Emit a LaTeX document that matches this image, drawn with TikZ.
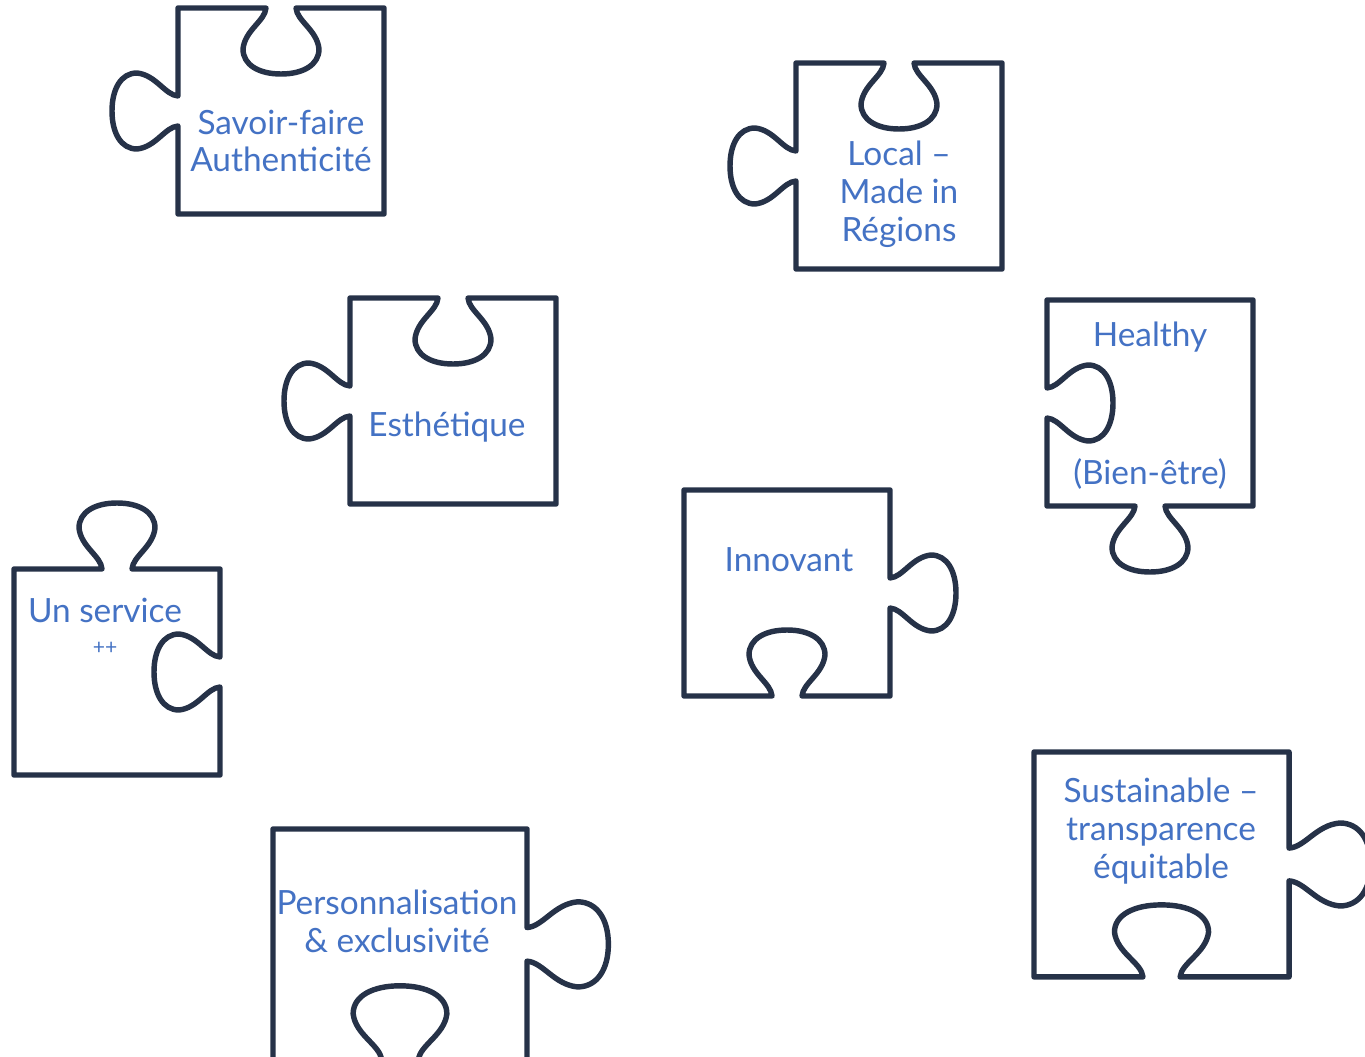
\documentclass[tikz,border=0pt]{standalone}
\usepackage{fontspec}
\setmainfont{Lato}
\usepackage{tikz}
\definecolor{ink}{HTML}{263248}
\definecolor{wordblue}{HTML}{4472C4}

% one knob on an edge: centre x, centre y, edge direction x, y, sign (1 tab, (-1) blank)
\newcommand{\knob}[5]{%
  -- ({#1-15*#3},{#2-15*#4})
  .. controls ({#1-16*#3+#5*13*#4},{#2-16*#4-#5*13*#3})
  and ({#1-36*#3+#5*22*#4},{#2-36*#4-#5*22*#3})
  .. ({#1-38*#3+#5*41*#4},{#2-38*#4-#5*41*#3})
  .. controls ({#1-38*#3+#5*57*#4},{#2-38*#4-#5*57*#3})
  and ({#1-22*#3+#5*66*#4},{#2-22*#4-#5*66*#3})
  .. ({#1+#5*66*#4},{#2-#5*66*#3})
  .. controls ({#1+22*#3+#5*66*#4},{#2+22*#4-#5*66*#3})
  and ({#1+38*#3+#5*57*#4},{#2+38*#4-#5*57*#3})
  .. ({#1+38*#3+#5*41*#4},{#2+38*#4-#5*41*#3})
  .. controls ({#1+36*#3+#5*22*#4},{#2+36*#4-#5*22*#3})
  and ({#1+16*#3+#5*13*#4},{#2+16*#4-#5*13*#3})
  .. ({#1+15*#3},{#2+15*#4})}

\begin{document}
\begin{tikzpicture}[
  x=0.02cm, y=-0.02cm,
  piece/.style={draw=ink,line width=3.1pt,line join=round,fill=white},
  txt/.style={text=wordblue,align=center,font=\fontsize{19}{21.5}\selectfont,inner sep=0pt},
  small/.style={text=wordblue,font=\fontsize{12}{14}\selectfont,inner sep=0pt}
]
  \useasboundingbox (0,0) rectangle (1365,1057);

  % top row
  \begin{scope}[shift={(178,8)}]
    \draw[piece] (0,0) \knob{103}{0}{1}{0}{(-1)} -- (206,0) -- (206,206) -- (0,206)
      \knob{0}{103}{0}{(-1)}{1} -- cycle;
  \end{scope}
  \node[txt] (savoir) at (281,141) {Savoir-faire\\Authenticité};

  \begin{scope}[shift={(796,63)}]
    \draw[piece] (0,0) \knob{103}{0}{1}{0}{(-1)} -- (206,0) -- (206,206) -- (0,206)
      \knob{0}{103}{0}{(-1)}{1} -- cycle;
  \end{scope}
  \node[txt] (local) at (899,194) {Local --\\Made in\\Régions};

  % middle
  \begin{scope}[shift={(350,298)}]
    \draw[piece] (0,0) \knob{103}{0}{1}{0}{(-1)} -- (206,0) -- (206,206) -- (0,206)
      \knob{0}{103}{0}{(-1)}{1} -- cycle;
  \end{scope}
  \node[txt] (esth) at (447,427) {Esthétique};

  \begin{scope}[shift={(1047,300)}]
    \draw[piece] (0,0) -- (206,0) -- (206,206) \knob{103}{206}{(-1)}{0}{1} -- (0,206)
      \knob{0}{103}{0}{(-1)}{(-1)} -- cycle;
  \end{scope}
  \node[txt] (healthy) at (1150,337) {Healthy};
  \node[txt] (bien) at (1150,474) {(Bien-être)};

  \begin{scope}[shift={(14,569)}]
    \draw[piece] (0,0) \knob{103}{0}{1}{0}{1} -- (206,0) \knob{206}{103}{0}{1}{(-1)}
      -- (206,206) -- (0,206) -- cycle;
  \end{scope}
  \node[txt] (service) at (105,610) {Un service};
  \node[small] (plus) at (105,648) {++};

  \begin{scope}[shift={(684,490)}]
    \draw[piece] (0,0) -- (206,0) \knob{206}{103}{0}{1}{1} -- (206,206)
      \knob{103}{206}{(-1)}{0}{(-1)} -- (0,206) -- cycle;
  \end{scope}
  \node[txt] (innov) at (789,560) {Innovant};

  % bottom row, larger pieces
  \begin{scope}[shift={(273,829)},xscale=1.233,yscale=1.12]
    \draw[piece] (0,0) -- (206,0) \knob{206}{103}{0}{1}{1} -- (206,206)
      \knob{103}{206}{(-1)}{0}{(-1)} -- (0,206) -- cycle;
  \end{scope}
  \node[txt] (perso) at (397,921) {Personnalisation\\\& exclusivité};

  \begin{scope}[shift={(1034,752)},xscale=1.238,yscale=1.092]
    \draw[piece] (0,0) -- (206,0) \knob{206}{103}{0}{1}{1} -- (206,206)
      \knob{103}{206}{(-1)}{0}{(-1)} -- (0,206) -- cycle;
  \end{scope}
  \node[txt] (sustain) at (1161,831) {Sustainable --\\transparence\\équitable};
\end{tikzpicture}
\end{document}
